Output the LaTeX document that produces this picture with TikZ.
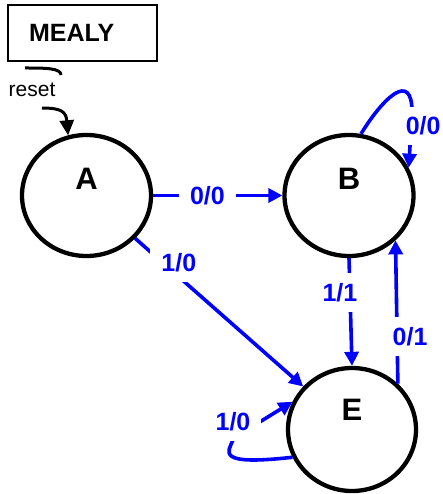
\documentclass[tikz,border=0pt]{standalone}
\usepackage{fontspec}
\setmainfont{Liberation Sans}
\usetikzlibrary{shapes.geometric,arrows.meta}

\begin{document}
\begin{tikzpicture}[x=1pt, y=-1pt, node distance=262.5pt,
state/.style={draw, ellipse, line width=4.3pt, minimum width=129pt, minimum height=121pt, inner sep=0pt},
statename/.style={font=\fontsize{31}{36}\selectfont\bfseries},
trans/.style={draw=blue, line width=3.6pt, -{Triangle[width=14pt,length=14pt]}},
lab/.style={font=\fontsize{25}{30}\selectfont\bfseries, text=blue, fill=white, inner xsep=11pt, inner ysep=10pt}]

\useasboundingbox (0,0) rectangle (443,494);

% title and reset
\node[draw, line width=1.5pt, minimum height=56pt, text width=107pt, inner xsep=21pt, align=left,
  font=\fontsize{25}{30}\selectfont\bfseries] (mealy) at (82.5,33) {MEALY};
\node[font=\fontsize{21}{25}\selectfont] (reset) at (32,90) {reset};
\coordinate (arcl) at (25,68);
\coordinate (arcr) at (61,75);
\coordinate (rst) at (42,108);

% states
\node[state, label={[statename, yshift=17pt]center:A}] (A) at (86.5,195.5) {};
\node[state, right of=A, label={[statename, yshift=17pt]center:B}] (B) {};
\node[state, minimum width=128pt, minimum height=123pt, node distance=234pt, below of=B, xshift=3pt,
  label={[statename, yshift=20pt]center:E}] (E) {};

\draw[line width=3pt] (arcl) .. controls (45,68) and (61,68) .. (arcr);
\draw[line width=3pt, -{Triangle[width=14pt,length=15pt]}] (rst) .. controls (62,108) and (66,112) .. (A.107);

% transitions
\draw[trans] (A) -- node[lab, pos=0.42] {0/0} (B);
\draw[trans] (A) -- node[lab, pos=0.26, yshift=14pt] {1/0} (E);
\draw[trans] (B.south) -- node[lab, pos=0.32, xshift=-10pt] {1/1} (E.north);
\draw[trans] (E.45) -- node[lab, pos=0.33, xshift=13pt] {0/1} (B.-44);
\draw[trans] (B.79) .. controls (383,98) and (412,70) .. (412,112)
  -- node[lab, pos=0.25, xshift=12pt] {0/0} (B.25);
\draw[trans] (E.205) .. controls (215,466) and (228,452) .. (233,440) node[lab, yshift=18pt] {1/0}
  -- (250,428) -- (E.155);

\end{tikzpicture}
\end{document}
